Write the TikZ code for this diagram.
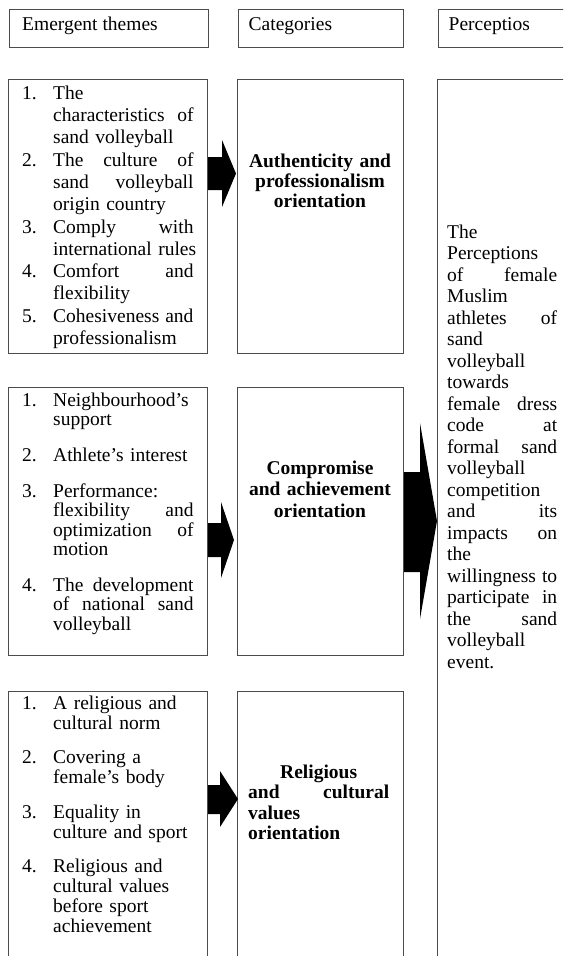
\documentclass[tikz,border=0pt]{standalone}
\usepackage{fontspec}
\setmainfont{Liberation Serif}
\begin{document}
\begin{tikzpicture}[x=1pt,y=-1pt,
  box/.style={draw=black!70, line width=0.8pt, inner sep=0pt, anchor=north west},
  hdr/.style={anchor=base west, inner sep=0pt, font=\fontsize{19.5}{21.5}\selectfont},
  txt/.style={anchor=north west, inner sep=0pt, align=left},
  cat/.style={anchor=north, inner sep=0pt, align=center, text width=152pt},
  blk/.style={fill=black, draw=none}
]
\useasboundingbox (0,0) rectangle (563,956);
\clip (0,0) rectangle (563,956);
\fill[white] (0,0) rectangle (563,956);

% header boxes
\node[box, minimum width=199pt, minimum height=38pt] (h1) at (9,9) {};
\node[box, minimum width=165pt, minimum height=38pt] (h2) at (238,9) {};
\node[box, minimum width=200pt, minimum height=38pt] (h3) at (438,9) {};
\node[hdr] (h1t) at (22,30.5) {Emergent themes};
\node[hdr] (h2t) at (248.5,30.5) {Categories};
\node[hdr] (h3t) at (448.5,30.5) {Perceptios};

% boxes
\node[box, minimum width=199pt, minimum height=274pt] (L1) at (8,79) {};
\node[box, minimum width=166pt, minimum height=274pt] (C1) at (237,79) {};
\node[box, minimum width=199pt, minimum height=268pt] (L2) at (8,387) {};
\node[box, minimum width=166pt, minimum height=268pt] (C2) at (237,387) {};
\node[box, minimum width=199pt, minimum height=400pt] (L3) at (8,691) {};
\node[box, minimum width=166pt, minimum height=400pt] (C3) at (237,691) {};
\node[box, minimum width=200pt, minimum height=1000pt] (P) at (437,79) {};

% left texts
\node[txt, text width=171.3pt, font=\fontsize{19.5}{22.3}\selectfont] (L1t) at (22,84) {%
\rule{0pt}{15pt}\makebox[31pt][l]{1.}The\\
\hspace*{31pt}characteristics\hfill of\\
\hspace*{31pt}sand volleyball\\
\makebox[31pt][l]{2.}The\hfill culture\hfill of\\
\hspace*{31pt}sand\hfill volleyball\\
\hspace*{31pt}origin country\\
\makebox[31pt][l]{3.}Comply\hfill with\\
\hspace*{31pt}\makebox[140pt][l]{international rules}\\
\makebox[31pt][l]{4.}Comfort\hfill and\\
\hspace*{31pt}flexibility\\
\makebox[31pt][l]{5.}Cohesiveness\hfill and\\
\hspace*{31pt}professionalism};

\node[txt, text width=171.3pt, font=\fontsize{19.5}{19.3}\selectfont] (L2t) at (22,391) {%
\rule{0pt}{15pt}\makebox[31pt][l]{1.}Neighbourhood’s\\
\hspace*{31pt}support\\[16.7pt]
\makebox[31pt][l]{2.}Athlete’s interest\\[16.7pt]
\makebox[31pt][l]{3.}Performance:\\
\hspace*{31pt}flexibility\hfill and\\
\hspace*{31pt}optimization\hfill of\\
\hspace*{31pt}motion\\[16.7pt]
\makebox[31pt][l]{4.}The\hfill development\\
\hspace*{31pt}of\hfill national\hfill sand\\
\hspace*{31pt}volleyball};

\node[txt, text width=171.3pt, font=\fontsize{19.5}{20}\selectfont] (L3t) at (22,694) {%
\rule{0pt}{15pt}\makebox[31pt][l]{1.}A religious and\\
\hspace*{31pt}cultural norm\\[14.5pt]
\makebox[31pt][l]{2.}Covering a\\
\hspace*{31pt}female’s body\\[14.5pt]
\makebox[31pt][l]{3.}Equality in\\
\hspace*{31pt}culture and sport\\[14.5pt]
\makebox[31pt][l]{4.}Religious and\\
\hspace*{31pt}cultural values\\
\hspace*{31pt}before sport\\
\hspace*{31pt}achievement};

% category texts
\node[cat, font=\fontsize{19.5}{20}\selectfont\bfseries] (C1t) at (320,152) {\rule{0pt}{15pt}Authenticity and\\ professionalism\\ orientation};
\node[cat, font=\fontsize{19.5}{21.5}\selectfont\bfseries] (C2t) at (320,459) {\rule{0pt}{15pt}Compromise\\ and achievement\\ orientation};
\node[txt, text width=141pt, font=\fontsize{19.5}{20.5}\selectfont\bfseries] (C3t) at (248,763) {\rule{0pt}{15pt}\hfill Religious\hfill\null\\ and\hfill cultural\\ values\\ orientation};

% perception text
\node[txt, text width=110pt, font=\fontsize{19.5}{21.5}\selectfont] (Pt) at (447,223) {%
\rule{0pt}{15pt}The\\
Perceptions\\
of\hfill female\\
Muslim\\
athletes\hfill of\\
sand\\
volleyball\\
towards\\
female\hfill dress\\
code\hfill at\\
formal\hfill sand\\
volleyball\\
competition\\
and\hfill its\\
impacts\hfill on\\
the\\
willingness\hfill to\\
participate\hfill in\\
the\hfill sand\\
volleyball\\
event.};

% block arrows
\fill[blk] (208,157) -- (222,157) -- (222,140) -- (236,173.5) -- (222,207) -- (222,190) -- (208,190) -- cycle;
\fill[blk] (208,523) -- (221,523) -- (221,502) -- (234,540) -- (221,578) -- (221,557) -- (208,557) -- cycle;
\fill[blk] (208,785) -- (220,785) -- (220,771) -- (238,799) -- (220,827) -- (220,814) -- (208,814) -- cycle;
\fill[blk] (404,472) -- (420,472) -- (420,423) -- (437,521) -- (420,619) -- (420,572) -- (404,572) -- cycle;
\end{tikzpicture}
\end{document}
